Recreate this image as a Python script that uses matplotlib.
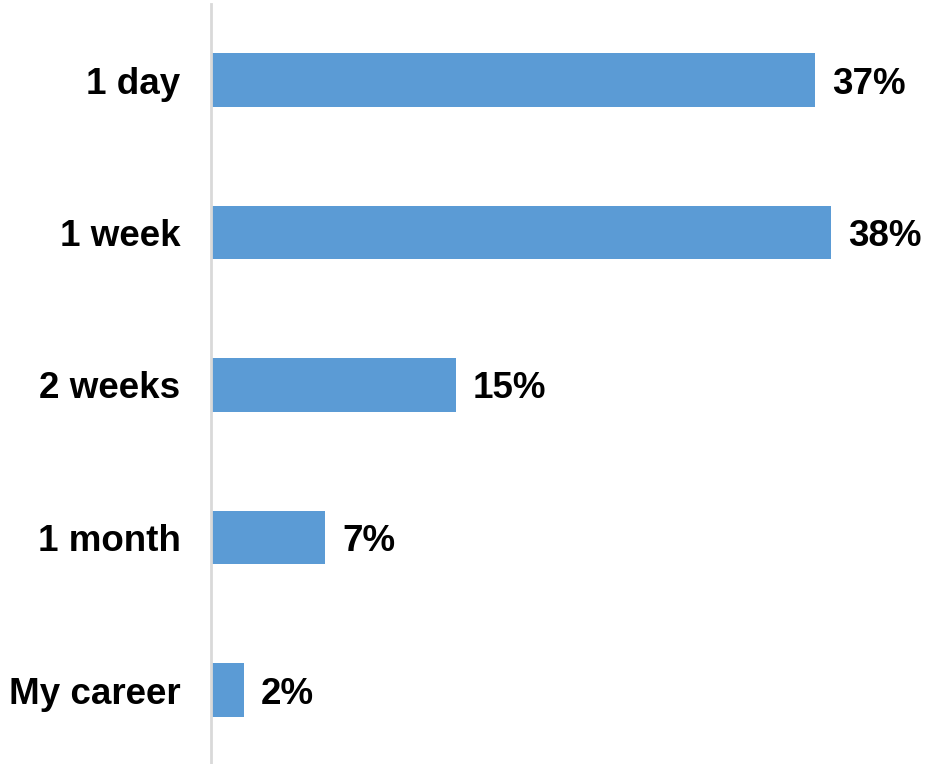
import matplotlib
matplotlib.use("Agg")
import matplotlib.pyplot as plt

# share of answers per time horizon
categories = ["1 day", "1 week", "2 weeks", "1 month", "My career"]
values = [37, 38, 15, 7, 2]
value_labels = ["37%", "38%", "15%", "7%", "2%"]

plt.rcParams['font.family'] = ['Liberation Sans', 'DejaVu Sans']

fig = plt.figure(figsize=(9.3, 7.64), dpi=100)
ax = fig.add_axes([211 / 930, -2.25 / 764, 708 / 930, 762.5 / 764])

y = list(range(len(categories)))
bars = ax.barh(y, values, height=0.354, color="#5b9bd5")

ax.set_ylim(len(categories) - 0.5, -0.5)
ax.set_xlim(0, 43.4)

for b, lab in zip(bars, value_labels):
    ax.text(b.get_width() + 1.05, b.get_y() + b.get_height() / 2, lab,
            va="center_baseline", ha="left", fontsize=26.5, fontweight="bold")

ax.set_yticks(y)
ax.set_yticklabels(categories, fontsize=26.5, fontweight="bold")
ax.tick_params(axis="y", length=0, pad=22)
ax.set_xticks([])

for side in ["top", "right", "bottom"]:
    ax.spines[side].set_visible(False)
ax.spines["left"].set_color("#d9d9d9")
ax.spines["left"].set_linewidth(2)

fig.savefig("out.png", dpi=100)
